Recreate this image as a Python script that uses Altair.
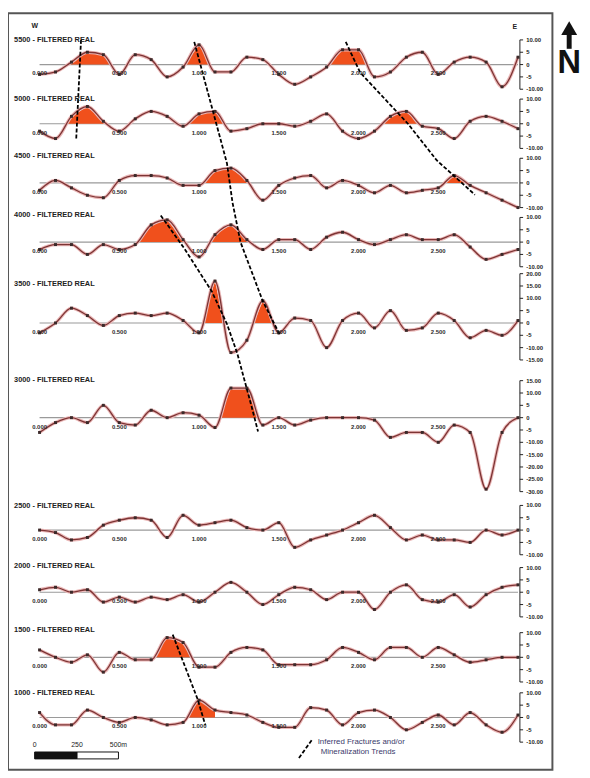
import altair as alt
import pandas as pd

# ---------------- data ----------------
line_names = ["5500", "5000", "4500", "4000", "3500", "3000", "2500", "2000", "1500", "1000"]
n_stations = 31
station_tick_idx = [0, 5, 10, 15, 20, 25]
station_tick_lbl = ["0.000", "0.500", "1.000", "1.500", "2.000", "2.500"]

p1 = [-4, -3, 1, 5, 4, -4, 4, 2, -5, -1, 8, -3, -3, 3, 2, -4, -8, -5, -1, 6, 6, -5, -3, 3, 5, -4, 1, 3, 1, -9, 3]
p2 = [-3, -6, 3, 7, 1, -3, 2, 5, 3, -1, 4, 5, -3, -2, 0, 0, -1, 1, 4, -3, -6, -3, 3, 5, -1, -2, -6, 1, 3, 1, -2]
p3 = [-3, 1, -2, -5, -6, 1, 3, 3, 2, -1, -1, 5, 6, 1, -7, -1, 2, 3, -2, 1, -1, -4, -1, -4, -3, -2, 3, -1, -4, -7, -10]
p4 = [-3, -1, -1, -5, -1, -3, -1, 7, 9, 1, -6, 3, 7, 1, -3, 1, 1, -3, 2, 4, 1, -1, 1, 3, 1, 1, 3, -2, -7, -5, -3]
p5 = [-4, 0, 6, 3, -1, 3, 4, 3, 4, 1, -4, 17, -12, -7, 9, -4, 2, 1, -10, 1, 4, -2, 5, -3, -2, 4, 1, -6, -3, -5, 1]
p6 = [-6, -2, 0, -2, 5, -2, -3, 3, 0, 2, 1, -4, 12, 12, -3, 0, -3, -1, 0, 0, 0, -1, -8, -6, -6, -10, -3, -6, -29, -6, 0]
p7 = [0, -1, -4, -3, 2, 4, 5, 4, -3, 6, 2, 3, 4, 1, 0, 3, -7, -4, -2, 0, 3, 6, 1, -4, -2, -4, -4, -5, 0, -2, 0]
p8 = [1, 2, 0, 1, -4, -2, -4, -2, -3, -1, -4, 0, 4, 0, -5, -1, 2, 1, -3, 0, 0, -7, 0, 3, -3, -4, -1, -6, -1, 2, 3]
p9 = [3, 0, -2, 1, -6, 2, -1, -1, 8, 6, -4, -4, 2, 4, 3, -3, -3, -3, -1, 4, 2, -1, 4, 4, 0, 4, 1, -2, -1, 0, 0]
p10 = [2, -3, -3, 3, 0, -2, 0, -1, -3, -2, 7, 3, 2, 1, -2, -4, -4, 4, 3, -3, 2, 3, 0, -5, -2, 1, -3, 2, -3, -6, 1]
profiles = [p1, p2, p3, p4, p5, p6, p7, p8, p9, p10]

ticks_std = [10, 5, 0, -5, -10]
axis_ticks = [ticks_std, ticks_std, ticks_std, ticks_std,
              [20, 15, 10, 5, 0, -5, -10, -15],
              [15, 10, 5, 0, -5, -10, -15, -20, -25, -30],
              ticks_std, ticks_std, ticks_std, ticks_std]

# anomalies filled in orange: (profile, first station, last station)
fills = [(0, 2, 4), (0, 10, 10), (0, 19, 20), (1, 2, 4), (1, 10, 11), (1, 22, 23),
         (2, 11, 13), (2, 26, 26), (3, 7, 9), (3, 11, 13), (4, 11, 11), (4, 14, 14),
         (5, 12, 13), (8, 8, 9), (9, 10, 11)]

# inferred trends: (station, profile, value on that profile's scale)
trends = {
    "A": [(2.6, 0, 10), (2.3, 1, -6)],
    "B": [(9.7, 0, 9.2), (11.75, 2, 8), (12.1, 3, 16), (12.6, 3, 0), (14.0, 4, 8.8), (15.1, 4, -5.2)],
    "C": [(7.6, 3, 10.8), (9.1, 3, -2.8), (10.8, 4, 12.8), (11.75, 4, -0.4), (12.4, 4, -12.4),
          (13.3, 5, 4.4), (13.7, 5, -5.6)],
    "D": [(19.2, 0, 9.2), (20.1, 0, -3.2), (23.1, 1, 0), (24.9, 2, 9.2), (27.3, 2, -4.8)],
    "E": [(8.35, 8, 9.2), (9.9, 9, 7.6), (10.4, 9, -3.2)],
}

# ---------------- layout ----------------
W, H = 552, 767
zero_y = [60, 120, 180, 240, 322, 418, 532, 595, 661, 722]
title_y = [35, 95, 153, 213, 283, 380, 508, 568, 633, 697]
ppu = 2.5
px_per_station = 16.17
x_lo = -32 / px_per_station
x_hi = x_lo + W / px_per_station
axis_x = 30.12

xs = alt.Scale(domain=[x_lo, x_hi], nice=False, zero=False)
ys = alt.Scale(domain=[8, 775], nice=False, zero=False, reverse=True)


def X(f):
    return alt.X(f"{f}:Q", scale=xs, axis=None)


def Y(f):
    return alt.Y(f"{f}:Q", scale=ys, axis=None)


def gy(k, v):
    return zero_y[k] - v * ppu


# profile points
prow = []
for k, vals in enumerate(profiles):
    for j, v in enumerate(vals):
        prow.append(dict(profile=k, x=j, gy=gy(k, v)))
pdf = pd.DataFrame(prow)

# fills
frow = []
for s, (k, a, b) in enumerate(fills):
    vals = profiles[k]
    pts = []
    if a > 0 and vals[a - 1] < 0 < vals[a]:
        pts.append((a - 1 + (-vals[a - 1]) / (vals[a] - vals[a - 1]), 0))
    for j in range(a, b + 1):
        pts.append((j, max(vals[j], 0)))
    if b < n_stations - 1 and vals[b + 1] < 0 < vals[b]:
        pts.append((b + vals[b] / (vals[b] - vals[b + 1]), 0))
    for x, v in pts:
        frow.append(dict(seg=s, x=x, gy=gy(k, v), gy0=zero_y[k]))
fdf = pd.DataFrame(frow)

zdf = pd.DataFrame(dict(x0=[0] * 10, x1=[n_stations - 1] * 10, gy=zero_y))

# right axes
arow, trow, lrow = [], [], []
for k, tk in enumerate(axis_ticks):
    arow.append(dict(x=axis_x, gt=gy(k, max(tk)), gb=gy(k, min(tk))))
    for t in tk:
        trow.append(dict(x=axis_x, x2=axis_x + 0.2, gy=gy(k, t)))
        lrow.append(dict(x=axis_x + 0.4, gy=gy(k, t),
                         text=(f"{t:.2f}" if abs(t) >= 10 else f"{t}")))
adf, tdf, ldf = pd.DataFrame(arow), pd.DataFrame(trow), pd.DataFrame(lrow)

# station labels
srow = []
for k in range(10):
    for j, lbl in zip(station_tick_idx, station_tick_lbl):
        srow.append(dict(x=j, gy=zero_y[k], text=lbl))
sdf = pd.DataFrame(srow)

ttdf = pd.DataFrame(dict(x=[-1.6] * 10, gy=title_y,
                         text=[f"{n} - FILTERED REAL" for n in line_names]))

# trends
rrow = []
for name, pts in trends.items():
    for i, (x, k, v) in enumerate(pts):
        rrow.append(dict(line=name, o=i, x=x, gy=gy(k, v)))
rdf = pd.DataFrame(rrow)

# ---------------- layers ----------------
zero_rules = alt.Chart(zdf).mark_rule(color="#9a9a9a", strokeWidth=1.2).encode(
    x=X("x0"), x2="x1:Q", y=Y("gy"))

area = alt.Chart(fdf).mark_area(color="#f0501c", opacity=1, interpolate="linear").encode(
    x=X("x"), y=Y("gy"), y2="gy0:Q", detail="seg:N")

halo = alt.Chart(pdf).mark_line(color="#eab8b8", strokeWidth=3.4, interpolate="monotone").encode(
    x=X("x"), y=Y("gy"), detail="profile:N")
line = alt.Chart(pdf).mark_line(color="#7d3434", strokeWidth=1.3, interpolate="monotone").encode(
    x=X("x"), y=Y("gy"), detail="profile:N")
pts = alt.Chart(pdf).mark_square(color="#3b2a2a", size=9, opacity=1).encode(
    x=X("x"), y=Y("gy"))

trend = alt.Chart(rdf).mark_line(color="#000000", strokeWidth=1.8, strokeDash=[4, 2]).encode(
    x=X("x"), y=Y("gy"), detail="line:N", order="o:Q")

ax_line = alt.Chart(adf).mark_rule(color="#222", strokeWidth=1).encode(
    x=X("x"), y=Y("gt"), y2="gb:Q")
ax_tick = alt.Chart(tdf).mark_rule(color="#222", strokeWidth=1).encode(
    x=X("x"), x2="x2:Q", y=Y("gy"))
ax_lbl = alt.Chart(ldf).mark_text(align="left", baseline="middle", fontSize=6,
                                  fontWeight="bold", font="Liberation Sans", color="#222").encode(
    x=X("x"), y=Y("gy"), text="text:N")

st_lbl = alt.Chart(sdf).mark_text(align="center", baseline="middle", dy=9, fontSize=6,
                                  fontWeight="bold", font="Liberation Sans", color="#2a2a2a").encode(
    x=X("x"), y=Y("gy"), text="text:N")

titles = alt.Chart(ttdf).mark_text(align="left", baseline="middle", fontSize=7.5,
                                   fontWeight="bold", font="Liberation Sans", color="#222").encode(
    x=X("x"), y=Y("gy"), text="text:N")

# decorations
we = alt.Chart(pd.DataFrame(dict(x=[-0.3, 29.8], gy=[21, 22], text=["W", "E"]))).mark_text(
    fontSize=7, fontWeight="bold", font="Liberation Sans", color="#222").encode(
    x=X("x"), y=Y("gy"), text="text:N")

n_x = (577 - 40) / px_per_station
arrow_head = alt.Chart(pd.DataFrame(dict(x=[n_x], gy=[23]))).mark_point(
    shape="triangle-up", size=260, filled=True, color="#111", opacity=1).encode(x=X("x"), y=Y("gy"))
arrow_shaft = alt.Chart(pd.DataFrame(dict(x=[n_x], g1=[28], g2=[44]))).mark_rule(
    color="#111", strokeWidth=5).encode(x=X("x"), y=Y("g1"), y2="g2:Q")
n_lbl = alt.Chart(pd.DataFrame(dict(x=[n_x], gy=[59], text=["N"]))).mark_text(
    fontSize=33, fontWeight="bold", font="Liberation Sans", color="#111",
    baseline="middle").encode(x=X("x"), y=Y("gy"), text="text:N")

sb_x = [(35 - 40) / px_per_station, (78 - 40) / px_per_station, (120 - 40) / px_per_station]
sbar = alt.Chart(pd.DataFrame(dict(x=sb_x[:2], x2=sb_x[1:], g1=[757, 757], g2=[764, 764],
                                   c=["#111", "#ffffff"]))).mark_rect(
    stroke="#111", strokeWidth=1).encode(
    x=X("x"), x2="x2:Q", y=Y("g1"), y2="g2:Q", fill=alt.Fill("c:N", scale=None))
sbar_lbl = alt.Chart(pd.DataFrame(dict(x=sb_x, gy=[750] * 3, text=["0", "250", "500m"]))).mark_text(
    fontSize=7, font="Liberation Sans", color="#222").encode(x=X("x"), y=Y("gy"), text="text:N")

leg_line = alt.Chart(pd.DataFrame(dict(x=[(303 - 40) / px_per_station, (316 - 40) / px_per_station],
                                       gy=[763, 745], o=[0, 1]))).mark_line(
    color="#000", strokeWidth=1.8, strokeDash=[4, 2]).encode(x=X("x"), y=Y("gy"), order="o:Q")
leg_txt = alt.Chart(pd.DataFrame(dict(x=[(322 - 40) / px_per_station, (325 - 40) / px_per_station],
                                      gy=[747, 757],
                                      text=["Inferred Fractures and/or", "Mineralization Trends"]))).mark_text(
    align="left", fontSize=8, font="Liberation Sans", color="#3a3a6a").encode(
    x=X("x"), y=Y("gy"), text="text:N")

chart = alt.layer(
    zero_rules, area, halo, line, pts, trend, ax_line, ax_tick, ax_lbl, st_lbl, titles,
    we, arrow_head, arrow_shaft, n_lbl, sbar, sbar_lbl, leg_line, leg_txt
).properties(
    width=W, height=H,
    padding={"left": 0, "top": 0, "right": 30, "bottom": 3},
    autosize=alt.AutoSizeParams(type="none"),
    background="#ffffff",
).configure_view(stroke="#555555", strokeWidth=2)

chart.save("out.html", embed_options={"renderer": "svg", "actions": False})
